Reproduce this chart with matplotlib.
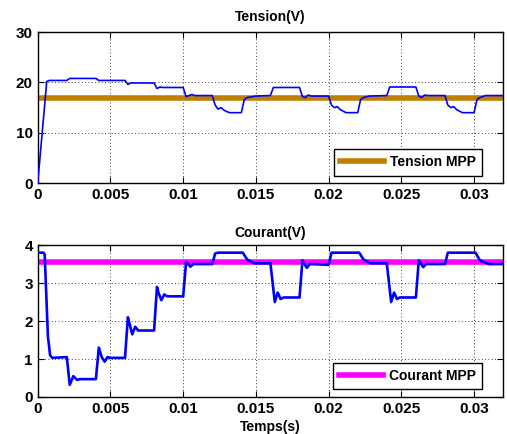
import matplotlib
matplotlib.use("Agg")
import matplotlib.pyplot as plt

plt.rcParams['font.family'] = ['Liberation Sans', 'DejaVu Sans']
plt.rcParams['font.weight'] = 'bold'

# Voltage trace (time s, volts)
t_v = [0.0, 0.00062, 0.0008, 0.0020, 0.0022, 0.0040, 0.0042, 0.0060, 0.0062, 0.0064, 0.0080,
       0.0082, 0.0084, 0.0086, 0.0100, 0.0102, 0.0104, 0.0106, 0.0108, 0.0120, 0.0122, 0.0124,
       0.0126, 0.0128, 0.0130, 0.0132, 0.0140, 0.0142, 0.0144, 0.0150,
       0.0160, 0.0162, 0.0180, 0.0182, 0.0184, 0.0186, 0.0188, 0.0200, 0.0202, 0.0204, 0.0206,
       0.0208, 0.0210, 0.0212, 0.0220, 0.0222, 0.0224, 0.0228, 0.0240, 0.0242, 0.0260, 0.0262,
       0.0264, 0.0266, 0.0268, 0.0280, 0.0282, 0.0284, 0.0286, 0.0288, 0.0290, 0.0292, 0.0300,
       0.0302, 0.0304, 0.0308, 0.0320]
v_v = [0.0, 20.2, 20.4, 20.4, 20.8, 20.8, 20.4, 20.4, 19.6, 19.9, 19.9,
       18.8, 19.1, 19.0, 19.0, 17.2, 17.4, 17.6, 17.4, 17.4, 15.5, 14.7,
       15.0, 14.5, 14.2, 14.0, 14.0, 16.6, 17.0, 17.3,
       17.4, 19.0, 19.0, 17.2, 17.0, 17.5, 17.3, 17.3, 15.5, 15.0, 15.2,
       14.6, 14.3, 14.0, 14.0, 16.6, 17.0, 17.3, 17.4, 19.1, 19.1, 17.3,
       17.0, 17.5, 17.4, 17.4, 15.5, 15.0, 15.2, 14.6, 14.3, 14.0, 14.0,
       16.6, 17.0, 17.4, 17.4]
v_mpp = 16.95

# Current trace (time s, amps)
t_i = [0.0, 0.00040, 0.00048, 0.00070, 0.00085, 0.0010, 0.0020, 0.0022, 0.00245, 0.0027, 0.0029,
       0.0040, 0.0042, 0.0044, 0.0046, 0.0048, 0.0050, 0.0060, 0.0062, 0.0063, 0.0065, 0.0067,
       0.0069, 0.0080, 0.0082, 0.0083, 0.0085, 0.0087, 0.0089, 0.0100, 0.0102, 0.0103, 0.0105,
       0.0107, 0.0120, 0.0122, 0.0124, 0.0141, 0.0144, 0.0149,
       0.0160, 0.0163, 0.0165, 0.0167, 0.0169, 0.0180, 0.0182, 0.0185, 0.0187, 0.0200, 0.0202,
       0.0204, 0.0221, 0.0224, 0.0229, 0.0240, 0.0243, 0.0245, 0.0247, 0.0249, 0.0260, 0.0262,
       0.0265, 0.0267, 0.0280, 0.0282, 0.0284, 0.0301, 0.0304, 0.0310, 0.0320]
i_v = [3.80, 3.80, 3.75, 1.60, 1.10, 1.03, 1.05, 0.32, 0.55, 0.45, 0.47,
       0.47, 1.30, 1.05, 0.93, 1.05, 1.03, 1.03, 2.10, 1.95, 1.65, 1.85,
       1.75, 1.75, 2.90, 2.75, 2.55, 2.70, 2.65, 2.65, 3.55, 3.52, 3.43,
       3.50, 3.50, 3.78, 3.80, 3.80, 3.62, 3.52,
       3.52, 2.50, 2.75, 2.58, 2.62, 2.62, 3.60, 3.40, 3.50, 3.48, 3.80,
       3.80, 3.80, 3.62, 3.52, 3.52, 2.50, 2.75, 2.58, 2.62, 2.62, 3.60,
       3.42, 3.50, 3.50, 3.80, 3.80, 3.80, 3.60, 3.50, 3.50]
i_mpp = 3.55

fig = plt.figure(figsize=(5.07, 4.34), dpi=100)
ax1 = fig.add_axes([0.0744, 0.578, 0.918, 0.348])
ax2 = fig.add_axes([0.0744, 0.0853, 0.918, 0.350])

xt = [0, 0.005, 0.01, 0.015, 0.02, 0.025, 0.03]
xtl = ['0', '0.005', '0.01', '0.015', '0.02', '0.025', '0.03']

ax1.plot(t_v, v_v, color='#0000FF', lw=1.2, zorder=3)
ax1.axhline(v_mpp, color='#BF8000', lw=4, label='Tension MPP', zorder=2)
ax1.set_ylim(0, 30)
ax1.set_yticks([0, 10, 20, 30])
ax1.set_title('Tension(V)', fontsize=10, fontweight='bold', pad=8)

ax2.plot(t_i, i_v, color='#0000FF', lw=1.9, zorder=3)
ax2.axhline(i_mpp, color='#FF00FF', lw=4, label='Courant MPP', zorder=2)
ax2.set_ylim(0, 4)
ax2.set_yticks([0, 1, 2, 3, 4])
ax2.set_title('Courant(V)', fontsize=10, fontweight='bold', pad=6)
ax2.set_xlabel('Temps(s)', fontsize=10, fontweight='bold', labelpad=3)

for ax in (ax1, ax2):
    ax.set_xlim(0, 0.032)
    ax.set_xticks(xt)
    ax.set_xticklabels(xtl)
    ax.grid(True, color='black', linestyle=(0, (1, 3)), lw=0.6)
    ax.tick_params(direction='in', top=True, right=True, labelsize=11, length=4, width=0.8)
    for lab in ax.get_xticklabels() + ax.get_yticklabels():
        lab.set_fontweight('bold')
    for s in ax.spines.values():
        s.set_linewidth(1.0)
    leg = ax.legend(loc='lower right', bbox_to_anchor=(0.955, 0.05), fontsize=10,
                    handlelength=3.2, handletextpad=0.4, fancybox=False, framealpha=1,
                    edgecolor='black', borderpad=0.45, borderaxespad=0)
    leg.get_frame().set_linewidth(1.0)
    for txt in leg.get_texts():
        txt.set_fontweight('bold')

fig.savefig('out.png', dpi=100)
